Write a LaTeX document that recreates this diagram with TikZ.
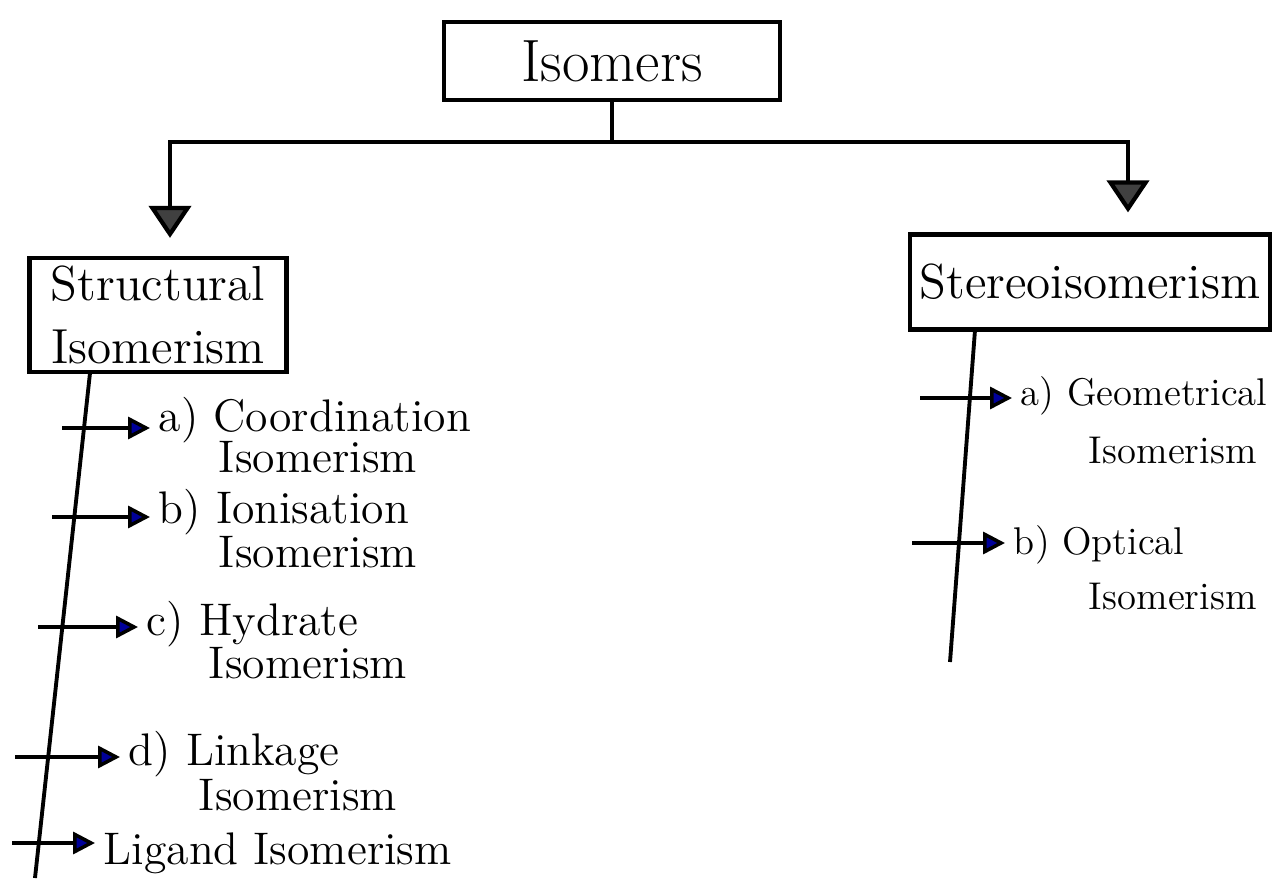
\documentclass[tikz,border=0pt]{standalone}
\usepackage{tikz}
\usetikzlibrary{arrows.meta,positioning}

\begin{document}
\begin{tikzpicture}[
  x=0.1mm,y=-0.1mm,
  line width=1.1pt,
  box/.style={draw, line width=1.2pt, inner sep=2pt, align=center},
  item/.style={anchor=west, inner sep=2pt, font=\fontsize{13}{15}\selectfont},
  ritem/.style={item, font=\fontsize{11}{13}\selectfont},
  branch/.style={-{Triangle[length=3.2mm,width=4.2mm,fill=black!75]}, line width=1.2pt},
  tick/.style={-{Triangle[length=2.2mm,width=2.2mm,fill=blue!60!black]}, line width=1pt},
]
\useasboundingbox (0,0) rectangle (1278,883);

% ---------------- boxes ----------------
\node[box, minimum width=3.36cm, minimum height=0.78cm,
      font=\fontsize{17}{20}\selectfont] (iso) at (612,61) {Isomers};
\node[box, minimum width=2.57cm, minimum height=1.14cm,
      font=\fontsize{14}{18}\selectfont] (struct) at (158,315) {Structural\\Isomerism};
\node[box, minimum width=3.6cm, minimum height=0.95cm,
      font=\fontsize{14}{18}\selectfont] (stereo) at (1090,282) {Stereoisomerism};

% branches from the top box
\coordinate (hub) at (612,142);
\draw (iso.south) -- (hub);
\draw[branch, shorten >=1.8mm] (hub) -| ([xshift=1.2mm]struct.north);
\draw[branch, shorten >=2mm] (hub) -| ([xshift=3.8mm]stereo.north);

% ---------------- structural side ----------------
\coordinate (ltop) at (90,373);
\coordinate (lbot) at (35,878);
\draw (ltop) -- (lbot);

\coordinate (ta) at (62,428);
\coordinate (tb) at (52,517);
\coordinate (tc) at (38,627);
\coordinate (td) at (15,757);
\coordinate (te) at (12,843);

\node[item] (coord)  at (150,420) {a) Coordination};
\node[item] (coord2) at (210,457) {Isomerism};
\node[item] (ion)    at (150,512) {b) Ionisation};
\node[item] (ion2)   at (210,552) {Isomerism};
\node[item] (hyd)    at (138,624) {c) Hydrate};
\node[item] (hyd2)   at (200,663) {Isomerism};
\node[item] (link)   at (120,754) {d) Linkage};
\node[item] (link2)  at (190,795) {Isomerism};
\node[item] (lig)    at (95,853)  {Ligand Isomerism};

\draw[tick] (ta) -- (ta -| coord.west);
\draw[tick] (tb) -- (tb -| ion.west);
\draw[tick] (tc) -- (tc -| hyd.west);
\draw[tick] (td) -- (td -| link.west);
\draw[tick] (te) -- (te -| lig.west);

% ---------------- stereo side ----------------
\coordinate (rtop) at (975,330);
\coordinate (rbot) at (950,662);
\draw (rtop) -- (rbot);

\coordinate (tg) at (920,398);
\coordinate (to) at (912,543);

\node[ritem] (geo)  at (1012,396) {a) Geometrical};
\node[ritem] (geo2) at (1080,450) {Isomerism};
\node[ritem] (opt)  at (1005,545) {b) Optical};
\node[ritem] (opt2) at (1080,596) {Isomerism};

\draw[tick] (tg) -- (tg -| geo.west);
\draw[tick] (to) -- (to -| opt.west);

\end{tikzpicture}
\end{document}
